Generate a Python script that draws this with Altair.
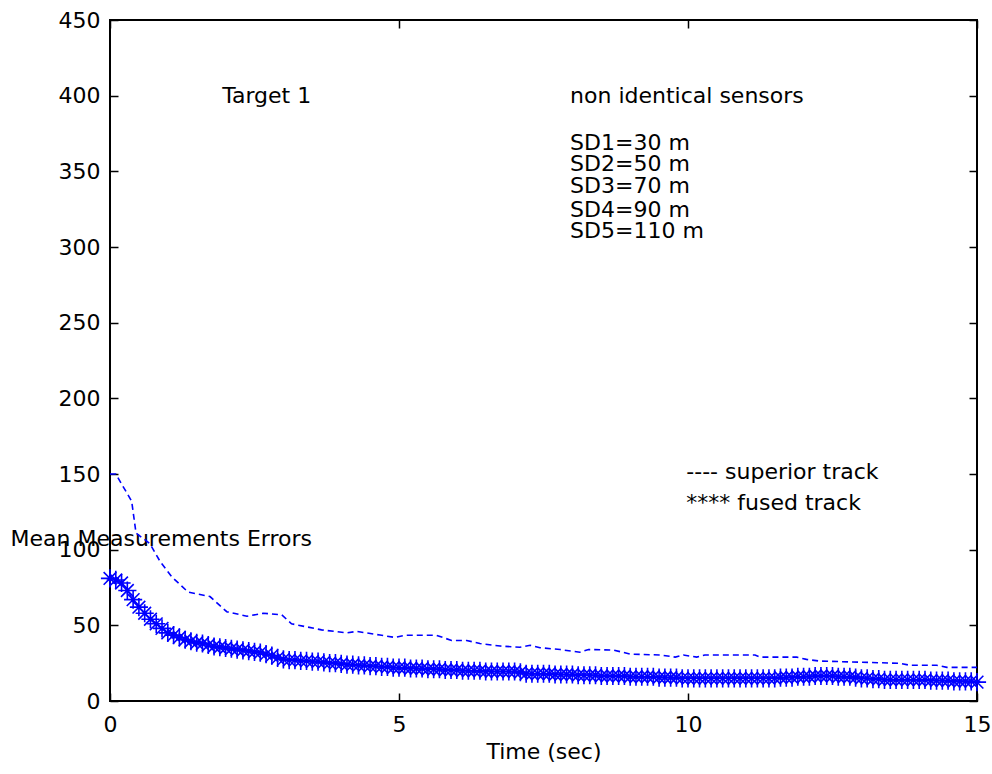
import altair as alt
import pandas as pd

# Superior track (dashed line vertices)
sup_t = [0, 0.1, 0.375, 0.45, 0.69, 0.87, 1.07, 1.35, 1.73, 2.02, 2.37, 2.65, 2.97, 3.14,
         3.66, 4.1, 4.27, 4.67, 4.93, 5.1, 5.65, 5.91, 6.17, 6.4, 6.75, 7.09, 7.27, 7.44,
         7.79, 8.13, 8.28, 8.71, 9.0, 9.52, 9.78, 9.92, 10.15, 10.29, 11.16, 11.25, 11.88,
         12.05, 12.28, 13.67, 13.84, 14.3, 14.48, 15.0]
sup_v = [150, 150, 132, 111, 104, 92, 82, 72, 69, 59, 56, 58, 57, 51,
         47, 45, 46, 43.6, 42, 43.4, 43.4, 40, 40, 38, 36.3, 35.5, 36.8, 35.2,
         34, 32.2, 34, 33.7, 31, 30.4, 29, 30.4, 29, 30.4, 30.4, 29, 29,
         27.5, 26.4, 24.9, 23.6, 23.6, 22.2, 22.2]

# Fused track, sampled every 0.1 s
fused_v = [81, 80, 78, 73, 67, 62, 58, 54, 51, 48,
           45, 43.5, 42, 40.5, 39.5, 38.5, 38, 37, 36, 35.5,
           35, 34.5, 34, 33.5, 33, 32.5, 32, 31, 30, 28.5,
           27.5, 27, 27, 26.5, 26.5, 26, 26, 25.5, 25, 25,
           24.5, 24, 24, 23.5, 23.5, 23, 23, 22.5, 22.5, 22,
           22, 22, 21.5, 21.5, 21.5, 21, 21, 21, 20.5, 20.5,
           20.5, 20, 20, 20, 20, 19.5, 19.5, 19.5, 19.5, 19.5,
           19.5, 19, 18, 18, 18, 18, 18, 17.5, 17.5, 17.5,
           17.5, 17, 17, 17, 17, 16.5, 16.5, 16.5, 16.5, 16.5,
           16, 16, 16, 16, 16, 15.5, 15.5, 15.5, 15.5, 15,
           15, 15, 15, 15, 15, 15, 15, 15, 15, 15,
           15, 15, 15, 15, 15, 15, 15.5, 15.5, 15.5, 16,
           16, 16, 16.5, 16.5, 16.5, 16.5, 16, 16, 16, 15.5,
           15, 15, 14.5, 14.5, 14, 14, 14, 14, 14, 14,
           14, 14, 13.5, 13.5, 13.5, 13.5, 13, 13, 13, 13,
           12.5]
fused_t = [round(i * 0.1, 1) for i in range(len(fused_v))]

# Annotations (data coordinates)
ann_text = ["Target 1", "non identical sensors", "SD1=30 m", "SD2=50 m", "SD3=70 m",
            "SD4=90 m", "SD5=110 m", "---- superior track", "**** fused track"]
ann_t = [1.94, 7.96, 7.96, 7.96, 7.96, 7.96, 7.96, 9.97, 9.97]
ann_v = [400, 400, 369, 355, 340, 324.5, 310.5, 151, 131]

x_ticks = [0, 5, 10, 15]
y_ticks = list(range(0, 451, 50))

FONT = "DejaVu Sans"
FS = 22
BLUE = "#0000FF"

sup_df = pd.DataFrame({"t": sup_t, "v": sup_v})
fused_df = pd.DataFrame({"t": fused_t, "v": fused_v})
ann_df = pd.DataFrame({"t": ann_t, "v": ann_v, "label": ann_text})

xscale = alt.Scale(domain=[0, 15], nice=False, zero=False)
yscale = alt.Scale(domain=[0, 450], nice=False)

common = dict(offset=-8, tickSize=8, domain=False, grid=False, tickColor="black",
              tickWidth=1.5)

xaxis = alt.Axis(values=x_ticks, title="Time (sec)", labelPadding=13, labelFlush=False,
                 labelOverlap=False, labelFont=FONT, labelFontSize=FS, labelColor="black",
                 titleFont=FONT, titleFontSize=FS, titleFontWeight="normal",
                 titleColor="black", titlePadding=6, **common)
yaxis = alt.Axis(values=y_ticks, title="Mean Measurements Errors", labelPadding=10,
                 labelFlush=False, labelOverlap=False, labelFont=FONT, labelFontSize=FS,
                 labelColor="black", titleFont=FONT, titleFontSize=FS,
                 titleFontWeight="normal", titleColor="black", titleAngle=0,
                 titleAlign="left", titleBaseline="middle", titleX=-108, titleY=518,
                 **common)

x_top = alt.Axis(orient="top", values=x_ticks, title=None, labels=False, **common)
y_right = alt.Axis(orient="right", values=y_ticks, title=None, labels=False, **common)

sup = alt.Chart(sup_df).mark_line(color=BLUE, strokeDash=[6, 4], strokeWidth=1.6).encode(
    x=alt.X("t:Q", scale=xscale, axis=xaxis),
    y=alt.Y("v:Q", scale=yscale, axis=yaxis),
)

ticks_other = alt.Chart(fused_df).mark_line(color=BLUE, strokeWidth=1.2).encode(
    x=alt.X("t:Q", scale=xscale, axis=x_top),
    y=alt.Y("v:Q", scale=yscale, axis=y_right),
)

star = "M0,-1L0,1M-1,0L1,0M-0.7,-0.7L0.7,0.7M-0.7,0.7L0.7,-0.7"
fused_pts = alt.Chart(fused_df).mark_point(shape=star, filled=False, color=BLUE,
                                           strokeWidth=1.6, size=330, opacity=1).encode(
    x=alt.X("t:Q", scale=xscale, axis=None),
    y=alt.Y("v:Q", scale=yscale, axis=None),
)

ann = alt.Chart(ann_df).mark_text(align="left", baseline="middle", font=FONT,
                                  fontSize=FS, color="black").encode(
    x=alt.X("t:Q", scale=xscale, axis=None),
    y=alt.Y("v:Q", scale=yscale, axis=None),
    text="label:N",
)

chart = alt.layer(sup, ticks_other, fused_pts, ann).resolve_axis(
    x="independent", y="independent"
).properties(
    width=867, height=681,
    autosize=alt.AutoSizeParams(type="none"),
    padding={"left": 110, "top": 20, "right": 15, "bottom": 73},
    background="white",
).configure_view(stroke="black", strokeWidth=2)

chart.save("out.html", embed_options={"renderer": "svg", "actions": False})
